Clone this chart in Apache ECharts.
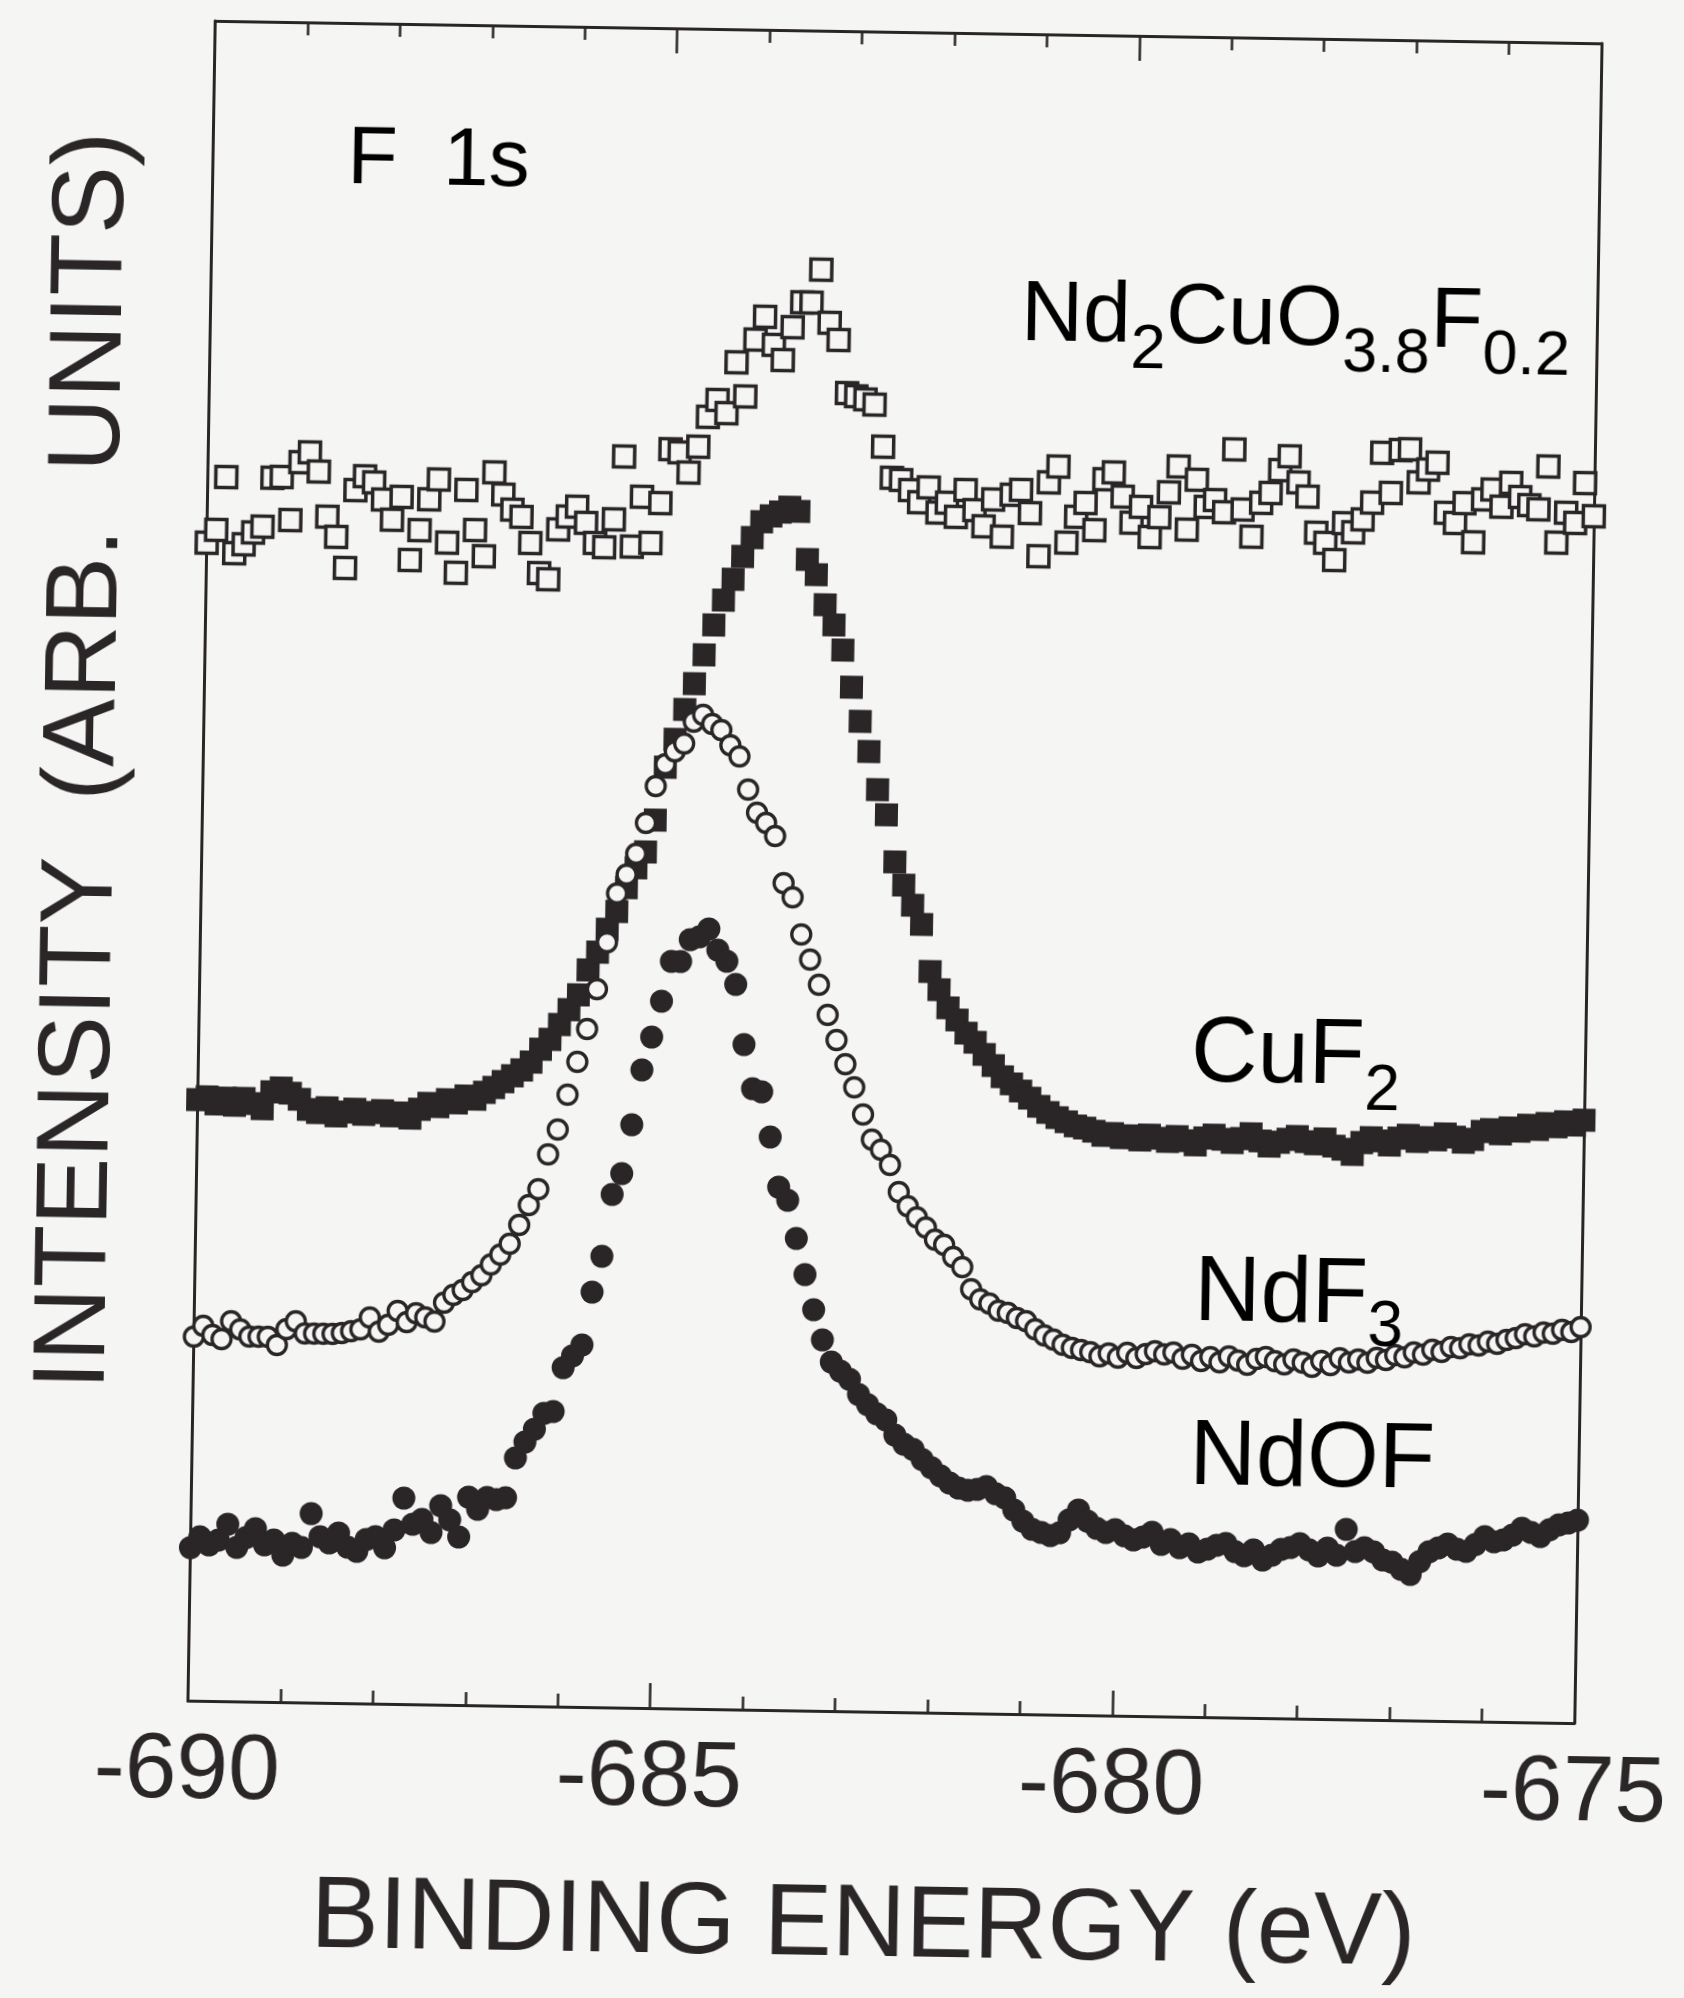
<!DOCTYPE html>
<html>
<head>
<meta charset="utf-8">
<script src="https://cdn.jsdelivr.net/npm/echarts@6/dist/echarts.min.js"></script>
<style>
  html, body { margin: 0; padding: 0; background: #f5f5f4; overflow: hidden; }
  #chart { width: 1684px; height: 1998px; transform: rotate(0.93deg); transform-origin: 896.5px 872px; }
</style>
</head>
<body>
<div id="chart"></div>
<script>
// Binding energy grid (eV), 0.1 eV steps from -690 to -675
const energyStart = -690;
const energyStep = 0.1;
const xTickLabels = ['-690', '-685', '-680', '-675'];
const seriesNames = ['Nd2CuO3.8F0.2', 'CuF2', 'NdF3', 'NdOF'];

// Intensities (arbitrary units, offset traces)
const nd2CuO = [1158,1171,1224,1148,1157,1169,1175,1224,1225,1182, 1240,1250,1231,1186,1166,1135,1213,1227,1221,1204,
  1184,1207,1144,1174,1205,1225,1162,1132,1215,1175, 1149,1233,1211,1196,1189,1163,1133,1127,1177,1190,
  1200,1184,1164,1160,1188,1251,1161,1211,1165,1205, 1259,1256,1236,1262,1292,1309,1296,1347,1313,1370,
  1393,1365,1350,1383,1408,1408,1441,1388,1371,1318, 1315,1312,1307,1265,1234,1232,1222,1210,1225,1200,
  1210,1196,1223,1203,1187,1214,1177,1219,1224,1201, 1158,1232,1248,1172,1198,1212,1185,1236,1243,1219,
  1193,1209,1179,1199,1224,1250,1187,1237,1210,1217, 1205,1268,1208,1181,1215,1225,1248,1262,1236,1222,
  1186,1176,1159,1196,1187,1200,1217,1267,1227,1270, 1271,1238,1251,1258,1208,1198,1218,1179,1222,1232,
  1215,1239,1225,1217,1213,1256,1180,1210,1200,1240, 1207];

const cuF2 = [601,604,597,603,596,603,598,593,610,614, 609,603,593,590,595,587,591,594,589,591,
  593,588,591,586,595,601,598,605,602,609, 606,613,618,624,630,636,644,657,667,682,
  697,712,737,755,778,796,820,840,856,888, 941,969,999,1025,1054,1084,1109,1130,1153,1172,
  1188,1194,1198,1203,1199,1151,1136,1106,1086,1061, 1024,990,960,922,897,850,827,807,788,741,
  723,705,693,680,671,659,648,637,630,623, 616,608,602,597,593,589,587,584,580,582,
  578,580,576,581,578,575,580,576,572,579, 582,578,575,579,584,577,572,576,579,582,
  577,575,580,573,570,565,577,582,579,575, 582,585,579,583,581,587,584,579,582,590,
  592,588,594,591,597,593,599,596,601,598, 603];

const ndF3 = [364,375,366,362,380,372,365,365,365,357, 373,381,369,369,369,369,370,372,374,386,
  372,379,393,382,391,387,383,402,410,415, 423,430,441,451,462,481,501,517,552,577,
  612,645,678,718,765,814,833,854,885,922, 944,957,965,987,994,985,979,964,953,920,
  897,887,874,827,813,776,751,726,696,671, 647,624,597,572,562,547,520,506,495,485,
  473,468,456,446,424,414,410,403,401,396, 393,385,379,375,370,367,365,363,359,362,
  358,363,358,362,365,362,364,358,362,356, 360,355,361,357,353,359,361,357,354,359,
  356,352,358,354,361,357,360,357,362,360, 365,363,368,366,371,369,374,373,377,376,
  380,378,382,384,388,386,390,389,393,391, 396];

const ndOF = [153,164,156,161,177,154,164,173,157,162, 147,159,155,189,166,160,170,156,152,164,
  167,156,174,206,180,185,172,199,185,168, 208,196,208,206,208,248,264,277,293,295,
  339,351,362,415,451,513,534,583,638,671, 707,747,747,769,772,780,759,748,725,665,
  621,618,573,523,510,472,436,401,371,349, 340,332,317,307,298,292,277,268,263,253,
  245,237,230,225,223,224,227,220,216,204, 193,185,182,179,182,195,205,194,187,183,
  186,180,176,179,184,172,177,169,173,165, 168,172,174,166,162,168,158,163,169,171,
  175,169,163,171,164,190,168,172,168,160, 158,151,146,159,169,173,177,172,170,177,
  185,180,182,187,194,190,186,193,198,200, 203];

const INK = '#2a2527';
const BG = '#f5f5f4';
const FONT = '"Liberation Sans", Arial, Helvetica, sans-serif';

function pairs(vals) {
  return vals.map((v, i) => [Math.round((energyStart + i * energyStep) * 10) / 10, v]);
}

const chart = echarts.init(document.getElementById('chart'), null, { renderer: 'canvas' });

const xAxisCommon = {
  type: 'value', min: -690, max: -675, interval: 5,
  axisLine: { show: true, onZero: false, lineStyle: { color: INK, width: 3 } },
  axisTick: { show: true, inside: true, length: 25, lineStyle: { color: INK, width: 2.5 } },
  minorTick: { show: true, splitNumber: 5, length: 13, lineStyle: { color: INK, width: 2.5 } },
  splitLine: { show: false }, minorSplitLine: { show: false }
};
const yAxisCommon = {
  type: 'value', min: 0, max: 1680,
  axisLine: { show: true, onZero: false, lineStyle: { color: INK, width: 3 } },
  axisTick: { show: false }, axisLabel: { show: false }, splitLine: { show: false }
};

function labelText(parts) {
  return parts.map(p => '{' + p[0] + '|' + p[1] + '}').join('');
}
const richMain = (size) => ({ fontSize: size, lineHeight: size, fontFamily: FONT, color: INK, verticalAlign: 'top' });
const richSub = (size, pad) => ({ fontSize: size, lineHeight: size, fontFamily: FONT, color: INK, verticalAlign: 'top', padding: [pad, 0, 0, 0] });

function seriesLabel(x, y, parts, mainSize, subSize, pad) {
  return {
    type: 'text', x: x, y: y, silent: true, z: 50,
    style: {
      text: labelText(parts),
      rich: { m: richMain(mainSize), s: richSub(subSize, pad) },
      align: 'left', verticalAlign: 'top'
    }
  };
}

const option = {
  backgroundColor: BG,
  animation: false,
  grid: { left: 201.5, top: 32, width: 1390, height: 1680, show: false },
  xAxis: [
    Object.assign({}, xAxisCommon, {
      position: 'bottom',
      axisLabel: { show: true, fontSize: 93, fontFamily: FONT, color: INK, margin: 71, verticalAlign: 'middle',
        formatter: (v) => xTickLabels[Math.round((v + 690) / 5)] },
      name: 'BINDING ENERGY (eV)', nameLocation: 'middle', nameGap: 216,
      nameTextStyle: { fontSize: 102, fontFamily: FONT, color: INK, verticalAlign: 'middle', padding: [0, 29, 0, 0] }
    }),
    Object.assign({}, xAxisCommon, { position: 'top', axisLabel: { show: false } })
  ],
  yAxis: [
    Object.assign({}, yAxisCommon, {
      position: 'left',
      name: 'INTENSITY  (ARB.  UNITS)', nameLocation: 'middle', nameGap: 118, nameRotate: 90,
      nameTextStyle: { fontSize: 102, fontFamily: FONT, color: INK, verticalAlign: 'middle', align: 'center', padding: [0, 0, 0, 196] }
    }),
    Object.assign({}, yAxisCommon, { position: 'right' })
  ],
  series: [
    { type: 'scatter', name: seriesNames[0], data: pairs(nd2CuO), symbol: 'rect', symbolSize: 21,
      itemStyle: { color: BG, borderColor: INK, borderWidth: 3.5, opacity: 1 }, silent: true, z: 2 },
    { type: 'scatter', name: seriesNames[1], data: pairs(cuF2), symbol: 'rect', symbolSize: 23,
      itemStyle: { color: INK, opacity: 1 }, silent: true, z: 3 },
    { type: 'scatter', name: seriesNames[2], data: pairs(ndF3), symbol: 'circle', symbolSize: 19,
      itemStyle: { color: BG, borderColor: INK, borderWidth: 3.3, opacity: 1 }, silent: true, z: 4 },
    { type: 'scatter', name: seriesNames[3], data: pairs(ndOF), symbol: 'circle', symbolSize: 23,
      itemStyle: { color: INK, opacity: 1 }, silent: true, z: 5 }
  ],
  graphic: [
    seriesLabel(336, 128, [['m', 'F  1s']], 82, 60, 44),
    seriesLabel(1012, 271, [['m', 'Nd'], ['s', '2'], ['m', 'CuO'], ['s', '3.8'], ['m', 'F'], ['s', '0.2']], 86, 63, 44),
    seriesLabel(1194, 1005, [['m', 'CuF'], ['s', '2']], 92, 64, 47),
    seriesLabel(1201, 1244, [['m', 'NdF'], ['s', '3']], 92, 64, 44),
    seriesLabel(1199, 1408, [['m', 'NdOF']], 92, 64, 47)
  ]
};
chart.setOption(option);
</script>
</body>
</html>
